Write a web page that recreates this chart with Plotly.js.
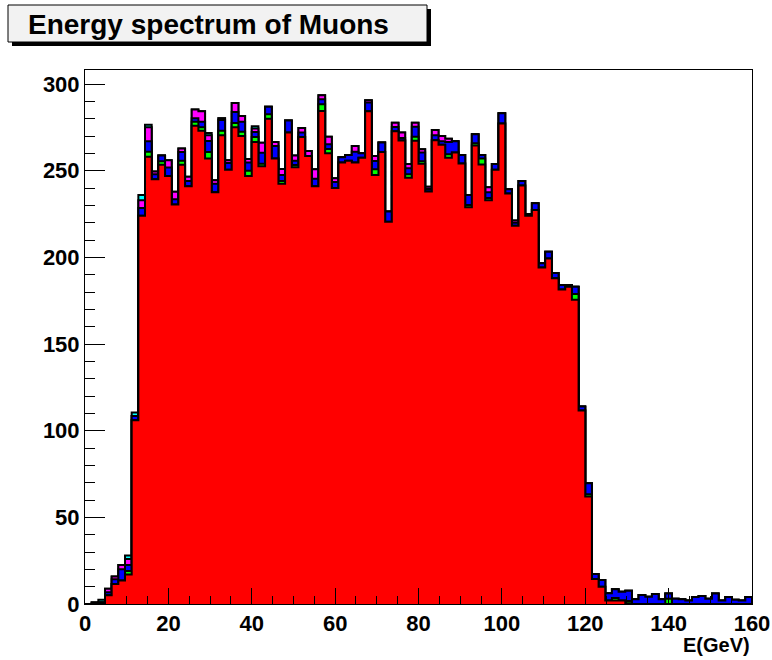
<!DOCTYPE html>
<html>
<head>
<meta charset="utf-8">
<script src="https://cdn.plot.ly/plotly-3.0.1.min.js"></script>
<style>
  html, body { margin: 0; padding: 0; background: #ffffff; }
  #chart { width: 772px; height: 660px; }
</style>
</head>
<body>
<div id="chart"></div>
<script>
// Muon energy spectrum: 100 bins of 1.6 GeV from 0 to 160 GeV,
// five stacked contributions drawn ROOT THStack style.
const binLow = 0;
const binWidth = 1.6;

const redCounts = [
  0, 0, 0.5, 5, 11.5, 13.5, 17, 106, 224, 258,
  245, 253.5, 247, 230.5, 253.5, 241, 276, 273, 257, 237.5,
  270.5, 250.5, 275, 270, 247, 266.5, 252.5, 280, 257, 242.5,
  272, 252, 269.5, 258.5, 241, 284.5, 260, 240, 254.8, 255.7,
  254.8, 257.5, 284.3, 247.5, 260.8, 220.6, 272.7, 267.4, 246, 267.3,
  254, 238, 267.5, 265, 257.5, 260.5, 254.2, 228.9, 264.5, 253.6,
  232.9, 250.6, 277.3, 236.8, 218.2, 241.4, 224, 227.3, 194.1, 199.4,
  188, 181.5, 183, 175.5, 111.7, 62, 14.4, 9.9, 2, 2,
  2, 0.5, 0, 0, 0, 0, 0, 0, 0, 0,
  0, 0, 0, 0, 0, 0, 0, 0, 0, 0
];
const greenCounts = [
  0, 0, 0, 0, 0, 0, 2, 0, 0, 3,
  0, 2, 0, 0, 2.3, 0, 2.3, 2, 3.8, 0,
  2.5, 0, 2.5, 2.5, 2.9, 2.9, 1.5, 2.5, 0, 1.5,
  0, 1.3, 0, 0, 0, 3.8, 2.5, 0, 0, 0,
  0, 0, 0, 3.3, 0, 0, 0, 0, 1.9, 2.3,
  1.5, 0, 0, 0, 2, 0, 0, 1.3, 1.3, 3.5,
  1.3, 0, 0, 0, 0, 0, 0, 0, 0, 0,
  0, 0, 0, 3.3, 0, 1.3, 0, 0, 0, 1.5,
  0, 1.2, 0, 0, 0, 0, 0, 3, 0, 0,
  0, 0, 0, 0, 0, 0, 0, 0, 0, 0
];
const blueCounts = [
  0, 0.8, 0.5, 1.8, 2.8, 6.5, 3.5, 2.5, 4.5, 6,
  3, 3.2, 4.8, 3, 5, 3, 2, 3.3, 6.3, 5,
  6.3, 4, 6.3, 5.8, 4.8, 3, 6.3, 4.4, 7.3, 3.5,
  7, 2.5, 2.5, 0, 4.4, 2.9, 2.7, 3.5, 2.9, 3.3,
  6.2, 2.5, 5, 4.8, 5.4, 5.8, 2.5, 1.5, 3.5, 5.8,
  5, 1.5, 2.9, 2, 7, 6.5, 4.8, 5.8, 5.2, 1.9,
  3.3, 3.3, 5.8, 2.5, 1.7, 2.7, 1, 3.9, 2.5, 3.9,
  3, 2.5, 1, 4.2, 2.3, 6.3, 2.9, 3.9, 4.2, 5,
  5, 6, 2.7, 5.2, 4.2, 5.8, 2.7, 3, 3, 2.7,
  2, 4, 4.6, 3, 6, 2, 4, 2.5, 2, 4
];
const magentaCounts = [
  0, 0, 0, 2, 1.5, 2.5, 3.5, 0, 4.5, 8,
  1.5, 0, 4.2, 4.4, 2, 2.5, 5, 6, 3.3, 2,
  1, 1.5, 5.2, 3.3, 2, 2, 5.8, 0, 2.3, 3.5,
  0, 2.9, 2.7, 2.9, 5.4, 2.3, 4.4, 2.1, 0, 0,
  3.3, 0, 1.3, 2.9, 0, 0, 2.5, 3.1, 2.5, 2.3,
  1.9, 1.3, 3.1, 3, 2, 0, 0, 0, 0, 0,
  2.9, 0, 0, 0, 1.3, 0, 0, 0, 0, 0,
  0, 0, 0, 0, 0, 0, 0, 0, 0, 0,
  0, 0, 0, 0, 0, 0, 0, 0, 0, 0,
  0, 0, 0, 0, 0, 0, 0, 0, 0, 0
];
const cyanCounts = [
  0, 0, 1.5, 0, 0, 0, 2, 2, 3, 1.5,
  0, 0, 0, 0, 0, 0, 0, 0, 1.3, 0,
  0, 0, 0, 0, 0, 1.2, 0, 0, 0, 0,
  0, 0, 0, 0, 0, 0, 0, 0, 0, 0,
  0, 0, 0, 0, 0, 0, 0, 0, 0, 0,
  0, 0, 0, 0, 0, 0, 0, 0, 0, 0,
  0, 0, 0, 0, 0, 0, 0, 0, 0, 0,
  0, 0, 0, 0, 0, 0, 0, 0, 0, 0,
  0, 0, 0, 0, 0, 0, 0, 0, 0, 0,
  0, 0, 0, 0, 0, 0, 0, 0, 0, 0
];

const xTickVals = [0, 20, 40, 60, 80, 100, 120, 140, 160];
const yTickVals = [0, 50, 100, 150, 200, 250, 300];

const layers = [
  { counts: redCounts, color: '#ff0000' },
  { counts: greenCounts, color: '#00ff00' },
  { counts: blueCounts, color: '#0000ff' },
  { counts: magentaCounts, color: '#ff00ff' },
  { counts: cyanCounts, color: '#00ffff' }
];

// cumulative sums, level k = layers 0..k
const nBins = redCounts.length;
const cumulative = [];
let running = new Array(nBins).fill(0);
layers.forEach(l => {
  running = running.map((v, i) => v + l.counts[i]);
  cumulative.push(running.slice());
});

// step outline of a histogram: bin edges with hv shape
function stepTrace(values, color) {
  const xs = [binLow];
  const ys = [0];
  for (let i = 0; i < nBins; i++) {
    xs.push(binLow + i * binWidth);
    ys.push(values[i]);
  }
  xs.push(binLow + nBins * binWidth);
  ys.push(values[nBins - 1]);
  xs.push(binLow + nBins * binWidth);
  ys.push(0);
  return {
    type: 'scatter',
    mode: 'lines',
    x: xs,
    y: ys,
    line: { shape: 'hv', color: '#000000', width: 2 },
    fill: 'tozeroy',
    fillcolor: color,
    hoverinfo: 'skip',
    showlegend: false
  };
}

// draw the highest stack level first, lower levels on top
const traces = [];
for (let k = layers.length - 1; k >= 0; k--) {
  traces.push(stepTrace(cumulative[k], layers[k].color));
}

const fam = 'Liberation Sans, Arial, Helvetica, sans-serif';
const tickFont = { family: fam, size: 22, color: '#000000', weight: 'bold' };

const L = 85, R = 20, T = 70, B = 56, W = 772, H = 660;
const pw = W - L - R, ph = H - T - B;
const px = x => (x - L) / pw;
const py = y => (H - B - y) / ph;

const layout = {
  width: W,
  height: H,
  margin: { l: L, r: R, t: T, b: B, pad: 0 },
  paper_bgcolor: '#ffffff',
  plot_bgcolor: '#ffffff',
  showlegend: false,
  font: tickFont,
  xaxis: {
    range: [0, 160],
    tickvals: xTickVals,
    ticktext: xTickVals.map(String),
    ticks: 'inside',
    ticklen: 16,
    tickwidth: 1,
    tickcolor: '#000000',
    minor: { dtick: 5, ticks: 'inside', ticklen: 8, tickwidth: 1, tickcolor: '#000000', showgrid: false },
    showline: true,
    linecolor: '#000000',
    linewidth: 1,
    mirror: true,
    showgrid: false,
    zeroline: false,
    tickfont: tickFont,
    fixedrange: true
  },
  yaxis: {
    range: [0, 308.1],
    tickvals: yTickVals,
    ticktext: yTickVals.map(String),
    ticks: 'inside',
    ticklen: 20,
    tickwidth: 1,
    tickcolor: '#000000',
    minor: { dtick: 10, ticks: 'inside', ticklen: 10, tickwidth: 1, tickcolor: '#000000', showgrid: false },
    showline: true,
    linecolor: '#000000',
    linewidth: 1,
    mirror: true,
    showgrid: false,
    zeroline: false,
    tickfont: tickFont,
    fixedrange: true
  },
  shapes: [
    // title box shadow and box
    { type: 'rect', xref: 'paper', yref: 'paper', x0: px(12), x1: px(431), y0: py(46), y1: py(9),
      fillcolor: '#000000', line: { width: 0 } },
    { type: 'rect', xref: 'paper', yref: 'paper', x0: px(8), x1: px(427), y0: py(42), y1: py(5),
      fillcolor: '#f2f2f2', line: { color: '#000000', width: 1 } }
  ],
  annotations: [
    { text: 'Energy spectrum of Muons', xref: 'paper', yref: 'paper',
      x: px(26), y: py(24), xanchor: 'left', yanchor: 'middle', showarrow: false,
      font: { family: fam, size: 28, color: '#000000', weight: 'bold' } },
    { text: 'E(GeV)', xref: 'paper', yref: 'paper',
      x: 1, y: py(645), xanchor: 'right', yanchor: 'middle', showarrow: false,
      font: { family: fam, size: 20, color: '#000000', weight: 'bold' } }
  ]
};

Plotly.newPlot('chart', traces, layout, { displayModeBar: false, staticPlot: true });
</script>
</body>
</html>
